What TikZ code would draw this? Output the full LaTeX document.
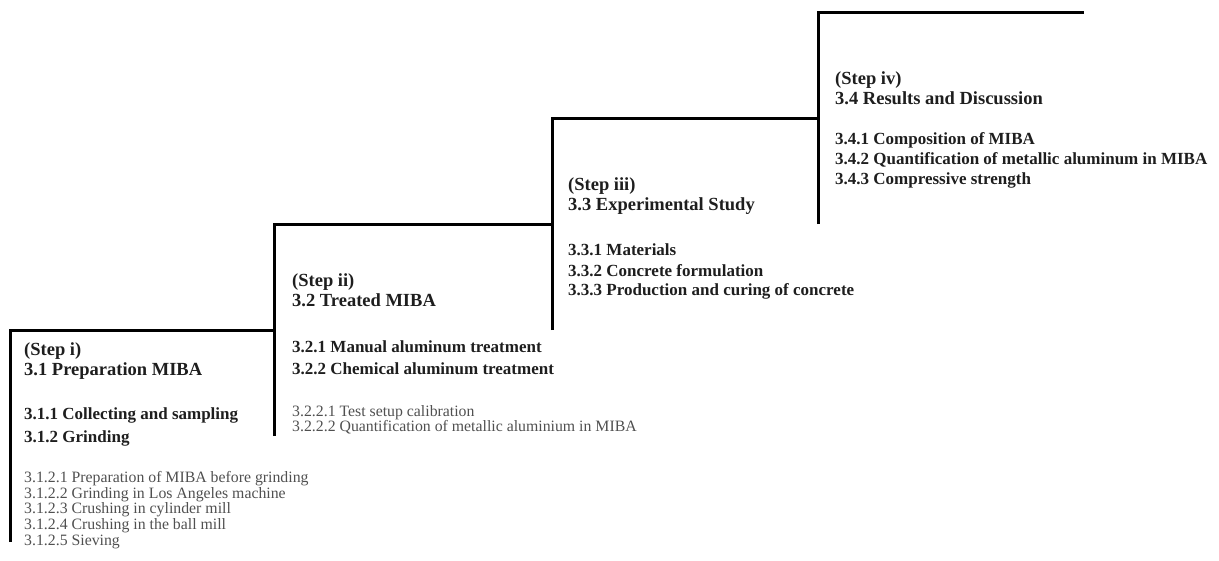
\documentclass[tikz,border=0pt]{standalone}
\usepackage{fontspec}
\setmainfont{Liberation Serif}
\usetikzlibrary{positioning}
\definecolor{headtext}{RGB}{30,30,30}
\definecolor{subtext}{RGB}{80,80,80}

\begin{document}
\begin{tikzpicture}[
            x=1pt, y=-1pt,
            stair/.style={line width=3pt, black},
            stephead/.style={anchor=north west, align=left, inner sep=0pt, text=headtext,
                             font=\fontsize{18.5}{20}\selectfont\bfseries},
            secpart/.style={anchor=north west, align=left, inner sep=0pt, text=headtext,
                            font=\fontsize{17}{22}\selectfont\bfseries},
            subpart/.style={anchor=north west, align=left, inner sep=0pt, text=subtext,
                            font=\fontsize{15.8}{15.7}\selectfont}
        ]

        \useasboundingbox (0,0) rectangle (1219,560);

        % corners of the stairs
        \coordinate (c1) at (10,330);
        \coordinate (c2) at (274,224);
        \coordinate (c3) at (552,118);
        \coordinate (c4) at (818,12);
        \coordinate (end) at (1084,12);

        \draw[stair] (c1) ++(0,212) -- (c1) -- (c1 -| c2);
        \draw[stair] (c2) ++(0,212) -- (c2) -- (c2 -| c3);
        \draw[stair] (c3) ++(0,212) -- (c3) -- (c3 -| c4);
        \draw[stair] (c4) ++(0,212) -- (c4) -- (end);

        % step i
        \node[stephead] (head1) at (24,342.6) {(Step i)\\3.1 Preparation MIBA};
        \node[secpart] (sec1) at (24,407) {3.1.1 Collecting and sampling\\[1pt]3.1.2 Grinding};
        \node[subpart] (sub1) at (24,471) {3.1.2.1 Preparation of MIBA before grinding\\
            3.1.2.2 Grinding in Los Angeles machine\\
            3.1.2.3 Crushing in cylinder mill\\
            3.1.2.4 Crushing in the ball mill\\
            3.1.2.5 Sieving};

        % step ii
        \node[stephead] (head2) at (292,273.6) {(Step ii)\\3.2 Treated MIBA};
        \node[secpart] (sec2) at (292,340) {3.2.1 Manual aluminum treatment\\3.2.2 Chemical aluminum treatment};
        \node[subpart] (sub2) at (292,405) {3.2.2.1 Test setup calibration\\
            3.2.2.2 Quantification of metallic aluminium in MIBA};

        % step iii
        \node[stephead] (head3) at (568,177.6) {(Step iii)\\3.3 Experimental Study};
        \node[secpart] (sec3) at (568,244) {3.3.1 Materials\\[-2pt]3.3.2 Concrete formulation\\[-2pt]3.3.3 Production and curing of concrete};

        % step iv
        \node[stephead] (head4) at (835,71.6) {(Step iv)\\3.4 Results and Discussion};
        \node[secpart] (sec4) at (835,132) {3.4.1 Composition of MIBA\\[-2pt]3.4.2 Quantification of metallic aluminum in MIBA\\[-2pt]3.4.3 Compressive strength};

        \end{tikzpicture}
\end{document}
